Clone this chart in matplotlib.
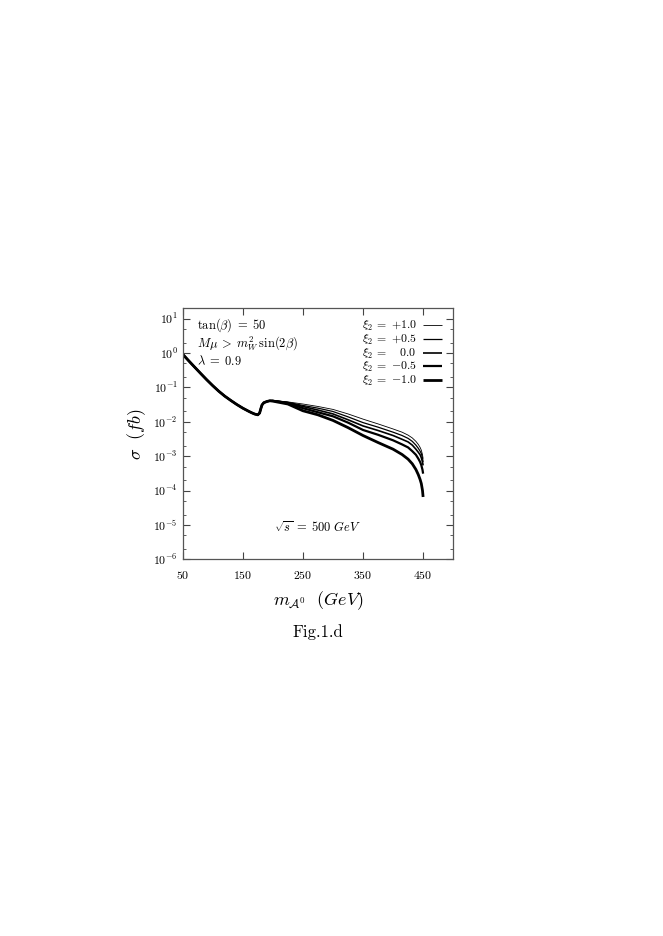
import numpy as np
import matplotlib
matplotlib.use("Agg")
import matplotlib.pyplot as plt
from matplotlib.ticker import LogLocator, FixedLocator, NullFormatter

plt.rcParams['mathtext.fontset'] = 'cm'
plt.rcParams['font.family'] = 'serif'
plt.rcParams['font.serif'] = ['cmr10', 'DejaVu Serif']
plt.rcParams['axes.formatter.use_mathtext'] = True

# shared low-mass part (all curves coincide here)
m_low = [50, 60, 70, 80, 90, 100, 110, 120, 130, 140, 150, 160, 165, 170, 175, 178, 180, 182, 185, 190, 195]
sig_low = [0.93, 0.6, 0.39, 0.255, 0.168, 0.113, 0.078, 0.056, 0.042, 0.032, 0.025, 0.0202, 0.0183, 0.0168, 0.016,
           0.018, 0.024, 0.031, 0.036, 0.039, 0.041]

# high-mass part, one series per xi_2
m_high = [200, 225, 250, 275, 300, 325, 350, 375, 400, 415, 425, 432, 438, 442, 445, 447, 449, 450]
sig_p10 = [0.042, 0.038, 0.033, 0.028, 0.023, 0.017, 0.0120, 0.0087, 0.0062, 0.0050, 0.0041, 0.0034, 0.0027, 0.0022, 0.0018, 0.0015, 0.0011, 0.00085]
sig_p05 = [0.042, 0.037, 0.030, 0.025, 0.020, 0.0140, 0.0095, 0.0070, 0.0050, 0.0040, 0.0033, 0.0027, 0.0021, 0.0017, 0.0014, 0.0012, 0.00088, 0.00068]
sig_z00 = [0.041, 0.036, 0.028, 0.022, 0.017, 0.0115, 0.0076, 0.0056, 0.0040, 0.0031, 0.0026, 0.0021, 0.0016, 0.0013, 0.0011, 0.00090, 0.00068, 0.00054]
sig_m05 = [0.041, 0.035, 0.025, 0.019, 0.0145, 0.0095, 0.0058, 0.0042, 0.0029, 0.0022, 0.0018, 0.0014, 0.0011, 0.00085, 0.00068, 0.00055, 0.00040, 0.00031]
sig_m10 = [0.040, 0.033, 0.021, 0.016, 0.0110, 0.0068, 0.0040, 0.0025, 0.0016, 0.00112, 0.00082, 0.00060, 0.00041, 0.00029, 0.00021, 0.00016, 0.000100, 0.000065]

labels = [r'$\xi_2\;=\;{+}1.0$', r'$\xi_2\;=\;{+}0.5$', r'$\xi_2\;=\;\;\;\;0.0$', r'$\xi_2\;=\;{-}0.5$', r'$\xi_2\;=\;{-}1.0$']
series = [sig_p10, sig_p05, sig_z00, sig_m05, sig_m10]
widths = [0.6, 0.9, 1.2, 1.6, 2.0]

fig = plt.figure(figsize=(6.63, 9.36), dpi=100)
ax = fig.add_axes([0.2755, 0.4025, 0.408, 0.268])

for sig, lab, lw in zip(series, labels, widths):
    x = m_low + m_high
    y = sig_low + sig
    ax.plot(x, y, color='black', lw=lw, label=lab, solid_capstyle='butt')

ax.set_yscale('log')
ax.set_xlim(50, 500)
ax.set_ylim(1e-6, 20)
ax.xaxis.set_major_locator(FixedLocator([50, 150, 250, 350, 450]))
ax.yaxis.set_major_locator(LogLocator(base=10, numticks=20))
ax.yaxis.set_minor_locator(LogLocator(base=10, subs=[2, 5], numticks=20))
ax.yaxis.set_minor_formatter(NullFormatter())
ax.tick_params(which='both', direction='in', top=True, right=True, labelsize=8.5, color='#444444')
ax.tick_params(which='major', length=5)
ax.tick_params(which='minor', length=2.5)
ax.tick_params(axis='x', pad=7)
for sp in ax.spines.values():
    sp.set_color('#555555')
    sp.set_linewidth(0.9)

ax.set_xlabel(r'$m_{\mathcal{A}^0}\ \ (GeV)$', fontsize=13, labelpad=6)
ax.set_ylabel(r'$\sigma\ \ (fb)$', fontsize=13, labelpad=4)

ax.text(0.052, 0.935, r'$\mathrm{tan}(\beta)\;=\;50$', transform=ax.transAxes, fontsize=9, va='center')
ax.text(0.052, 0.862, r'$M\mu\;>\;m_W^2\,\mathrm{sin}(2\beta)$', transform=ax.transAxes, fontsize=9, va='center')
ax.text(0.052, 0.79, r'$\lambda\;=\;0.9$', transform=ax.transAxes, fontsize=9, va='center')
ax.text(0.5, 0.125, r'$\sqrt{s}\;=\;500\ GeV$', transform=ax.transAxes, fontsize=9, ha='center', va='center')

ax.legend(loc='upper right', markerfirst=False, frameon=False, fontsize=8.5,
          handlelength=1.6, handletextpad=0.5, labelspacing=-0.03,
          bbox_to_anchor=(0.975, 0.975), borderaxespad=0)

fig.text(0.48, 0.325, 'Fig.1.d', fontsize=12, ha='center', va='center')

fig.savefig('out.png', dpi=100)
